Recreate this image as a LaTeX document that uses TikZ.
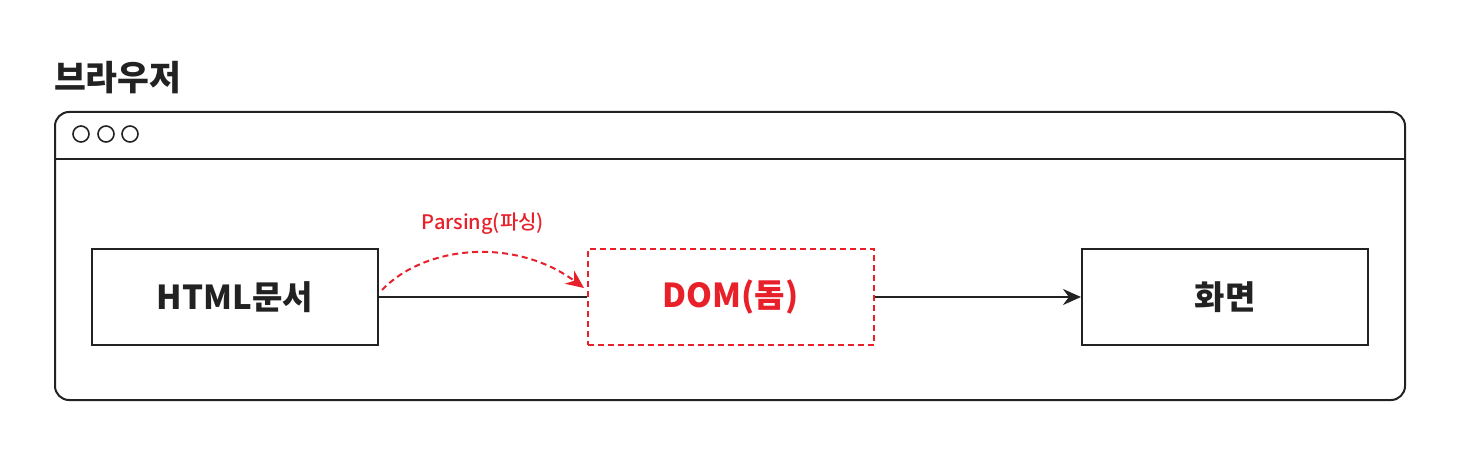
\documentclass[tikz,border=0pt]{standalone}
\usepackage{fontspec}
\setmainfont{Noto Sans CJK KR}
\newfontfamily\krmed{Noto Sans CJK KR Medium}
\usetikzlibrary{arrows.meta}
\definecolor{pred}{HTML}{E8202A}
\definecolor{ink}{HTML}{222222}
\begin{document}
\begin{tikzpicture}[x=0.5pt,y=-0.5pt,
  frame/.style={draw=ink,line width=1pt},
  box/.style={draw=ink,line width=1pt,minimum width=143pt,minimum height=48pt,inner sep=0pt,font=\fontsize{16.5}{19}\selectfont\bfseries,text=ink},
  dombox/.style={box,draw=pred,dashed,dash pattern=on 3pt off 2pt,text=pred},
  conn/.style={draw=ink,line width=1pt},
  dot/.style={circle,draw=ink,line width=0.8pt,minimum size=8pt,inner sep=0pt}]
\useasboundingbox (0,0) rectangle (1460,460);
\node[anchor=west,font=\fontsize{17.3}{20}\selectfont\bfseries,text=ink] (title) at (47,78) {브라우저};
\draw[frame,rounded corners=7pt] (55,112) rectangle (1405,400);
\coordinate (hl) at (55,159);
\coordinate (hr) at (1405,159);
\draw[frame] (hl) -- (hr);
\node[dot] (c1) at (81,134) {};
\node[dot] (c2) at (106,134) {};
\node[dot] (c3) at (130,134) {};
\node[box] (html) at (235,297) {HTML문서};
\node[dombox] (dom) at (730.5,297) {DOM(돔)};
\node[box] (scr) at (1225,297) {화면};
\draw[conn] (html) -- (dom);
\draw[conn,-{Stealth[length=9pt,width=8pt]}] (dom) -- (scr);
\coordinate (ps) at (382,290);
\coordinate (pe) at (584,288);
\draw[pred,line width=1pt,dash pattern=on 3pt off 2pt,-{Stealth[length=9pt,width=8pt]}] (ps) .. controls (425,245) and (515,237) .. (pe);
\node[text=pred,font=\krmed\fontsize{10}{12}\selectfont] (plabel) at (483,224) {Parsing(파싱)};
\end{tikzpicture}
\end{document}
